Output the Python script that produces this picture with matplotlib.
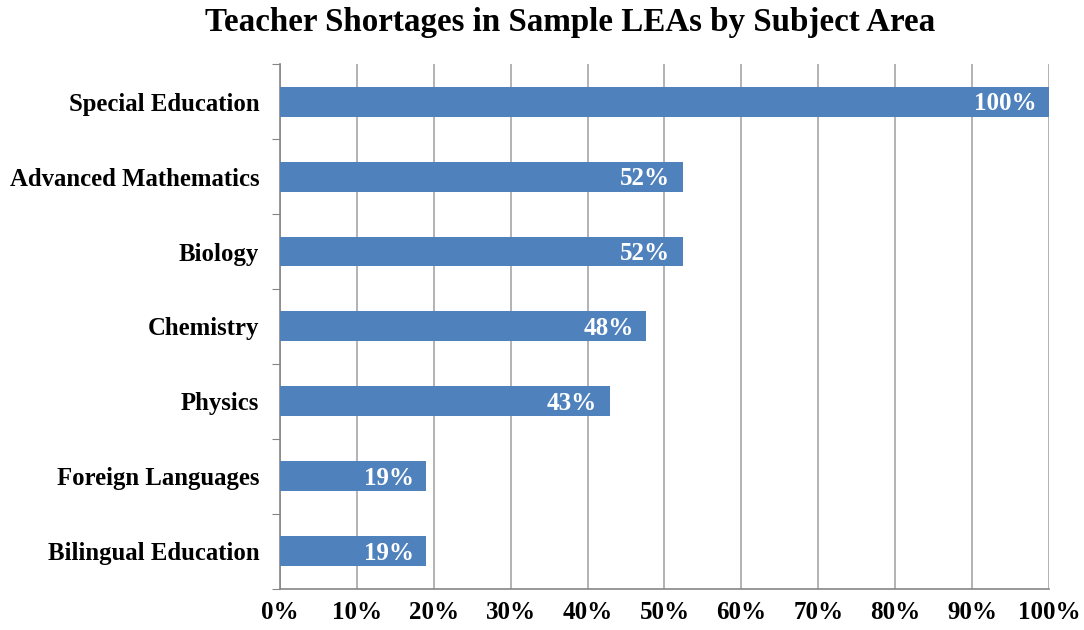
import matplotlib
matplotlib.use("Agg")
import matplotlib.pyplot as plt

## data
subjects = ["Special Education", "Advanced Mathematics", "Biology", "Chemistry",
            "Physics", "Foreign Languages", "Bilingual Education"]
shares = [1.0, 11/21., 11/21., 10/21., 9/21., 4/21., 4/21.]
x_ticks = [0, 0.1, 0.2, 0.3, 0.4, 0.5, 0.6, 0.7, 0.8, 0.9, 1.0]

plt.rcParams['font.family'] = ['Liberation Serif', 'DejaVu Serif']
plt.rcParams['font.weight'] = 'bold'

fig = plt.figure(figsize=(10.84, 6.3), dpi=100)
ax = fig.add_axes([0.2583, 0.0651, 0.7094, 0.8333])

pos = list(range(len(subjects)))
ax.barh(pos, shares, height=0.4, color='#4F81BD', zorder=3)

## value labels inside the bars
for y, v in zip(pos, shares):
    ax.annotate("%d%%" % round(v * 100), xy=(v, y), xytext=(-9, -1.5),
                textcoords='offset points', ha='right', va='center',
                color='white', fontsize=18, fontweight='bold', zorder=4)

ax.set_xlim(0, 1.0)
ax.set_ylim(len(subjects) - 0.5, -0.5)
ax.set_xticks(x_ticks)
ax.set_xticklabels(["%d%%" % round(t * 100) for t in x_ticks], fontsize=18, fontweight='bold')
ax.tick_params(axis='x', length=0, pad=9)

ax.set_yticks([p - 0.5 for p in pos] + [len(subjects) - 0.5])
ax.set_yticklabels([])
ax.set_yticks(pos, minor=True)
ax.set_yticklabels(subjects, minor=True, fontsize=17.8, fontweight='bold')
ax.tick_params(axis='y', which='major', length=6, color='#868686', direction='out')
ax.tick_params(axis='y', which='minor', length=0, pad=15)

ax.grid(axis='x', color='#A6A6A6', linewidth=1.2, zorder=0)
for side in ['top', 'right']:
    ax.spines[side].set_visible(False)
for side in ['left', 'bottom']:
    ax.spines[side].set_color('#868686')
    ax.spines[side].set_linewidth(1.2)

fig.text(0.526, 0.965, "Teacher Shortages in Sample LEAs by Subject Area",
         ha='center', va='center', fontsize=23.8, fontweight='bold')

plt.savefig("out.png", dpi=100)
